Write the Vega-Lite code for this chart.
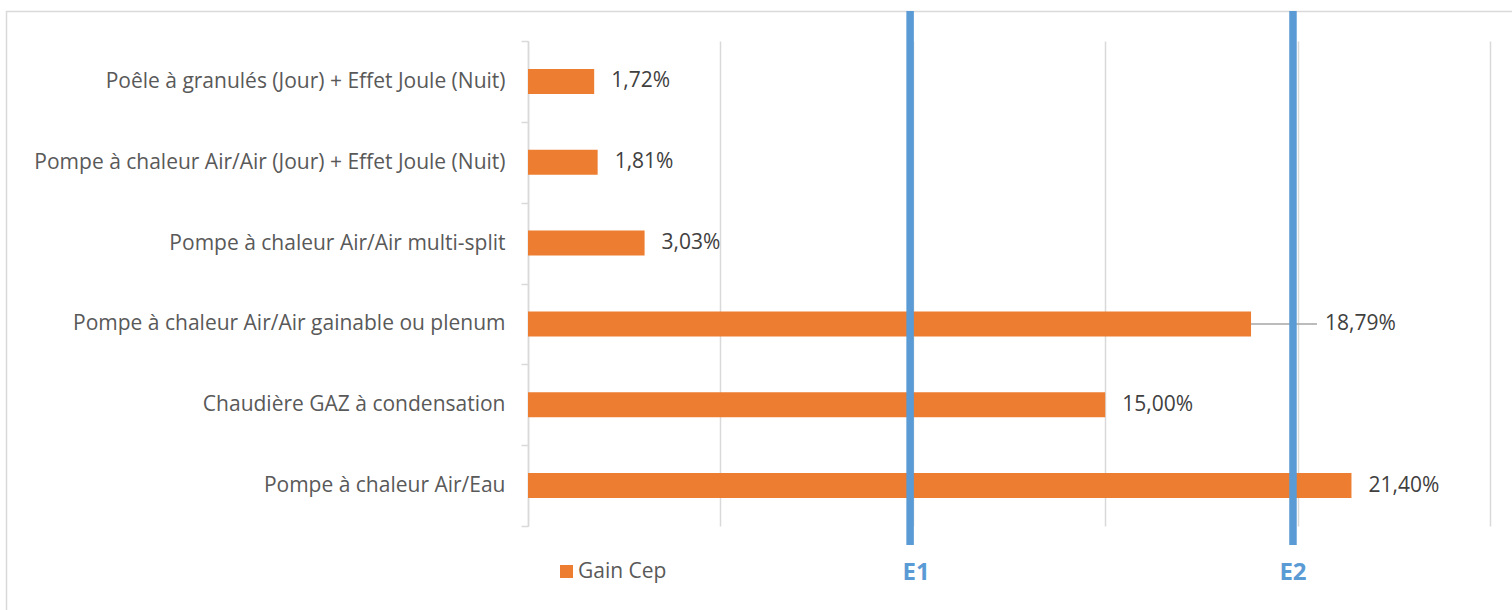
{
  "$schema": "https://vega.github.io/schema/vega-lite/v6.json",
  "autosize": "none",
  "width": 962,
  "height": 485,
  "padding": {"left": 528, "top": 41, "right": 22, "bottom": 84},
  "background": "white",
  "config": {"view": {"stroke": null}, "font": "Open Sans"},
  "datasets": {
    "gains": [
      {"systeme": "Poêle à granulés (Jour) + Effet Joule (Nuit)", "gain": 1.72, "label": "1,72%"},
      {"systeme": "Pompe à chaleur Air/Air (Jour) + Effet Joule (Nuit)", "gain": 1.81, "label": "1,81%"},
      {"systeme": "Pompe à chaleur Air/Air multi-split", "gain": 3.03, "label": "3,03%"},
      {"systeme": "Pompe à chaleur Air/Air gainable ou plenum", "gain": 18.79, "label": "18,79%"},
      {"systeme": "Chaudière GAZ à condensation", "gain": 15.0, "label": "15,00%"},
      {"systeme": "Pompe à chaleur Air/Eau", "gain": 21.4, "label": "21,40%"}
    ],
    "seuils": [
      {"nom": "E1", "valeur": 9.93},
      {"nom": "E2", "valeur": 19.88}
    ],
    "cadre": [{"element": "zone du graphique"}]
  },
  "resolve": {"scale": {"y": "independent"}},
  "layer": [
    {
      "data": {"name": "cadre"},
      "mark": {"type": "rect", "fill": null, "stroke": "#d9d9d9", "strokeWidth": 1.5, "xOffset": -521.5, "yOffset": -29.5, "x2Offset": 40, "y2Offset": 100},
      "encoding": {
        "x": {"datum": 0, "type": "quantitative"},
        "x2": {"datum": 25},
        "y": {"datum": 1, "type": "quantitative", "scale": {"domain": [0, 1], "nice": false}, "axis": null},
        "y2": {"datum": 0}
      }
    },
    {
      "layer": [
        {
          "data": {"name": "gains"},
          "mark": {"type": "bar", "height": {"band": 0.31}},
          "encoding": {
            "y": {
              "field": "systeme", "type": "nominal", "sort": null,
              "scale": {"paddingInner": 0, "paddingOuter": 0},
              "axis": {
                "title": null, "domainColor": "#d9d9d9", "domainWidth": 1.5,
                "tickBand": "extent", "tickColor": "#d9d9d9", "tickSize": 7, "tickWidth": 1.5,
                "labelFontSize": 21, "labelColor": "#595959", "labelPadding": 16, "labelLimit": 600, "labelFont": "Open Sans"
              }
            },
            "x": {
              "field": "gain", "type": "quantitative",
              "scale": {"domain": [0, 25], "nice": false},
              "axis": {
                "title": null, "values": [0, 5, 10, 15, 20, 25], "labels": false, "ticks": false, "domain": false,
                "grid": true, "gridColor": "#d9d9d9", "gridWidth": 1.5
              }
            },
            "color": {
              "datum": "Gain Cep",
              "scale": {"range": ["#ED7D31"]},
              "legend": {
                "title": null, "orient": "none", "legendX": 28, "legendY": 520,
                "symbolType": "square", "symbolSize": 169, "symbolStrokeWidth": 0,
                "labelFontSize": 21, "labelColor": "#595959", "labelOffset": 1, "padding": 0, "labelFont": "Open Sans"
              }
            }
          }
        },
        {
          "data": {"name": "gains"},
          "transform": [{"filter": "datum.gain != 18.79"}],
          "mark": {"type": "text", "align": "left", "baseline": "middle", "dx": 17, "fontSize": 21, "color": "#404040"},
          "encoding": {
            "y": {"field": "systeme", "type": "nominal", "sort": null},
            "x": {"field": "gain", "type": "quantitative"},
            "text": {"field": "label"}
          }
        },
        {
          "data": {"name": "gains"},
          "transform": [{"filter": "datum.gain == 18.79"}],
          "mark": {"type": "rule", "color": "#a6a6a6", "strokeWidth": 1.5, "x2Offset": 66},
          "encoding": {
            "y": {"field": "systeme", "type": "nominal", "sort": null},
            "x": {"field": "gain", "type": "quantitative"},
            "x2": {"field": "gain"}
          }
        },
        {
          "data": {"name": "gains"},
          "transform": [{"filter": "datum.gain == 18.79"}],
          "mark": {"type": "text", "align": "left", "baseline": "middle", "dx": 74, "fontSize": 21, "color": "#404040"},
          "encoding": {
            "y": {"field": "systeme", "type": "nominal", "sort": null},
            "x": {"field": "gain", "type": "quantitative"},
            "text": {"field": "label"}
          }
        }
      ]
    },
    {
      "data": {"name": "seuils"},
      "layer": [
        {
          "mark": {"type": "rule", "color": "#5B9BD5", "strokeWidth": 7.5, "yOffset": -30, "y2Offset": 19},
          "encoding": {
            "x": {"field": "valeur", "type": "quantitative"},
            "y": {"datum": 1, "type": "quantitative", "scale": {"domain": [0, 1], "nice": false}, "axis": null},
            "y2": {"datum": 0}
          }
        },
        {
          "transform": [{"filter": "datum.nom == 'E1'"}],
          "mark": {"type": "text", "align": "center", "baseline": "middle", "dx": 6, "dy": 47, "fontSize": 24, "fontWeight": "bold", "color": "#5B9BD5"},
          "encoding": {
            "x": {"field": "valeur", "type": "quantitative"},
            "y": {"datum": 0, "type": "quantitative"},
            "text": {"field": "nom"}
          }
        },
        {
          "transform": [{"filter": "datum.nom == 'E2'"}],
          "mark": {"type": "text", "align": "center", "baseline": "middle", "dx": 0, "dy": 47, "fontSize": 24, "fontWeight": "bold", "color": "#5B9BD5"},
          "encoding": {
            "x": {"field": "valeur", "type": "quantitative"},
            "y": {"datum": 0, "type": "quantitative"},
            "text": {"field": "nom"}
          }
        }
      ]
    }
  ]
}
